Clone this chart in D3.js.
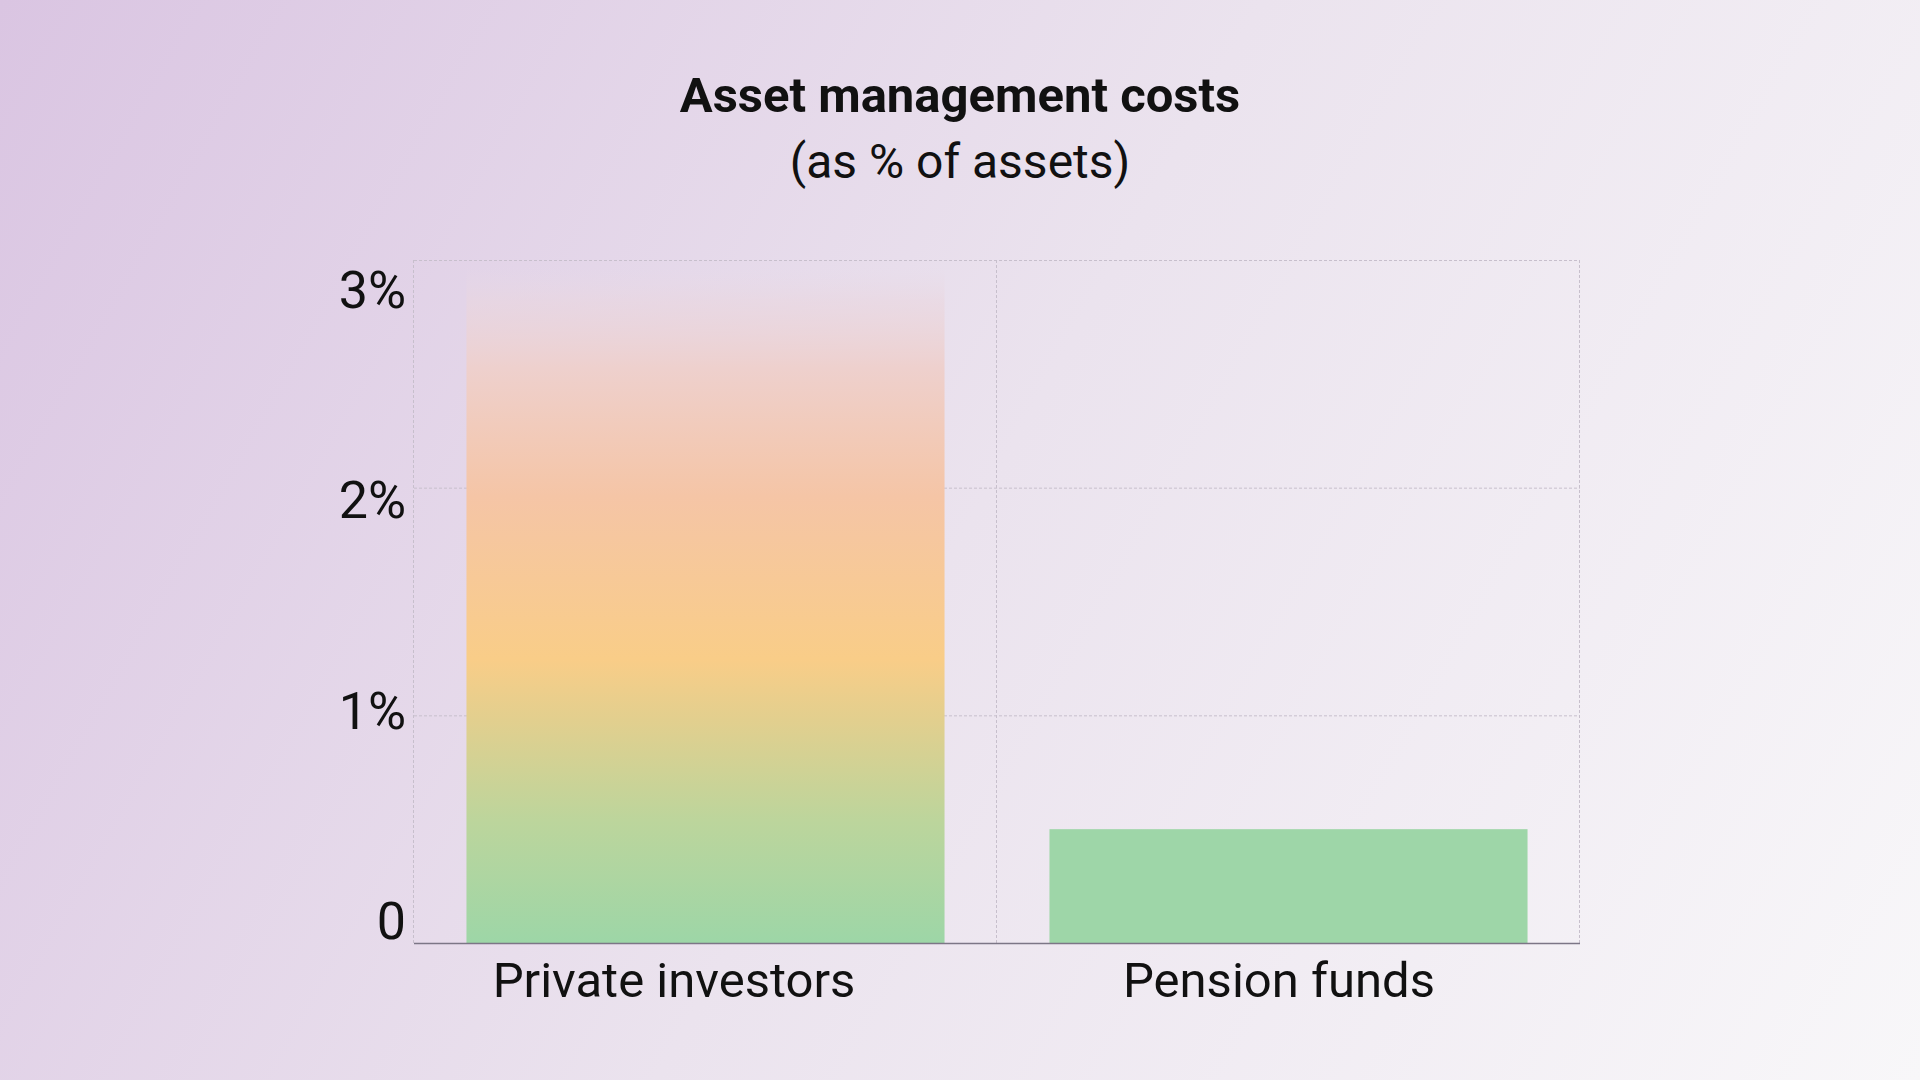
<!DOCTYPE html>
<html>
<head>
<meta charset="utf-8">
<script src="https://cdn.jsdelivr.net/npm/d3@7"></script>
<style>
  html, body { margin: 0; padding: 0; }
  body { width: 1920px; height: 1080px; overflow: hidden; }
  svg { display: block; font-family: Roboto, "Liberation Sans", sans-serif; }
</style>
</head>
<body>
<svg id="chart"></svg>
<script>
// data
const categories = ["Private investors", "Pension funds"];
const costs = [2.97, 0.5];
const yTicks = [0, 1, 2, 3];
const yTickLabels = ["0", "1%", "2%", "3%"];
const titleText = "Asset management costs";
const subtitleText = "(as % of assets)";

const width = 1920, height = 1080;
const margin = { top: 260, right: 340, bottom: 137, left: 414 };
const innerW = width - margin.left - margin.right;
const innerH = height - margin.top - margin.bottom;

const svg = d3.select("#chart")
  .attr("width", width)
  .attr("height", height);

const defs = svg.append("defs");

// page background
const bg = defs.append("linearGradient")
  .attr("id", "bg")
  .attr("gradientUnits", "userSpaceOnUse")
  .attr("x1", 0).attr("y1", 0)
  .attr("x2", width).attr("y2", height);
bg.append("stop").attr("offset", 0).attr("stop-color", "#dac5e2");
bg.append("stop").attr("offset", 0.5).attr("stop-color", "#ebe3ee");
bg.append("stop").attr("offset", 1).attr("stop-color", "#f8f7f9");

svg.append("rect")
  .attr("width", width)
  .attr("height", height)
  .attr("fill", "url(#bg)");

const chart = svg.append("g")
  .attr("transform", `translate(${margin.left},${margin.top})`);

const xScale = d3.scaleBand()
  .domain(categories)
  .range([0, innerW])
  .paddingInner(0.18)
  .paddingOuter(0.09);

const yScale = d3.scaleLinear()
  .domain([0, 3])
  .range([innerH, 0]);

// the labels sit on a slightly tighter spacing than the grid
const yLabelScale = d3.scaleLinear()
  .domain([0, 3])
  .range([innerH - 4, 48]);
const xLabelScale = d3.scalePoint()
  .domain(categories)
  .range([260, 865]);

// bar gradient for the first bar
const barGrad = defs.append("linearGradient")
  .attr("id", "barGrad")
  .attr("x1", 0).attr("y1", 1)
  .attr("x2", 0).attr("y2", 0);
[
  [0, "#9dd6a7", 1],
  [0.18, "#bcd59c", 1],
  [0.33, "#e2cf8e", 1],
  [0.42, "#f9cd88", 1],
  [0.66, "#f5c5a6", 1],
  [0.85, "#eed0cd", 1],
  [0.95, "#ead6de", 0.55],
  [1, "#e8dae6", 0]
].forEach(s => {
  barGrad.append("stop")
    .attr("offset", s[0])
    .attr("stop-color", s[1])
    .attr("stop-opacity", s[2]);
});

// grid
const dash = "3,2";
const gridColor = "#c7bfcc";

chart.selectAll(".hgrid")
  .data(yTicks.filter(d => d > 0))
  .join("line")
    .attr("class", "hgrid")
    .attr("x1", 0)
    .attr("x2", innerW)
    .attr("y1", d => yScale(d) + 0.5)
    .attr("y2", d => yScale(d) + 0.5)
    .attr("stroke", gridColor)
    .attr("stroke-width", 1)
    .attr("stroke-dasharray", dash);

const bandEdges = [0].concat(categories.map(c => xScale(c) + xScale.bandwidth() + xScale.step() * xScale.paddingInner() / 2));
bandEdges[bandEdges.length - 1] = innerW;

chart.selectAll(".vgrid")
  .data(bandEdges)
  .join("line")
    .attr("class", "vgrid")
    .attr("x1", d => Math.round(d) - 0.5)
    .attr("x2", d => Math.round(d) - 0.5)
    .attr("y1", 0)
    .attr("y2", innerH)
    .attr("stroke", gridColor)
    .attr("stroke-width", 1)
    .attr("stroke-dasharray", dash);

// bars
chart.selectAll(".bar")
  .data(categories)
  .join("rect")
    .attr("class", "bar")
    .attr("x", d => xScale(d))
    .attr("y", (d, i) => yScale(costs[i]))
    .attr("width", xScale.bandwidth())
    .attr("height", (d, i) => innerH - yScale(costs[i]))
    .attr("fill", (d, i) => i === 0 ? "url(#barGrad)" : "#9ed6a8");

// baseline
chart.append("line")
  .attr("x1", 0)
  .attr("x2", innerW)
  .attr("y1", innerH + 0.5)
  .attr("y2", innerH + 0.5)
  .attr("stroke", "#7c7686")
  .attr("stroke-width", 1.5);

// y labels
chart.selectAll(".ylabel")
  .data(yTicks)
  .join("text")
    .attr("class", "ylabel")
    .attr("x", -8)
    .attr("y", d => yLabelScale(d))
    .attr("text-anchor", "end")
    .attr("fill", "#111")
    .style("font-size", "52px")
    .text((d, i) => yTickLabels[i]);

// x labels
chart.selectAll(".xlabel")
  .data(categories)
  .join("text")
    .attr("class", "xlabel")
    .attr("x", d => xLabelScale(d))
    .attr("y", innerH + 54)
    .attr("text-anchor", "middle")
    .attr("fill", "#111")
    .style("font-size", "49px")
    .text(d => d);

// titles
svg.append("text")
  .attr("x", 960)
  .attr("y", 112)
  .attr("text-anchor", "middle")
  .attr("font-weight", "bold")
  .attr("fill", "#111")
  .style("font-size", "49px")
  .text(titleText);

svg.append("text")
  .attr("x", 960)
  .attr("y", 178)
  .attr("text-anchor", "middle")
  .attr("fill", "#111")
  .style("font-size", "48px")
  .text(subtitleText);
</script>
</body>
</html>
